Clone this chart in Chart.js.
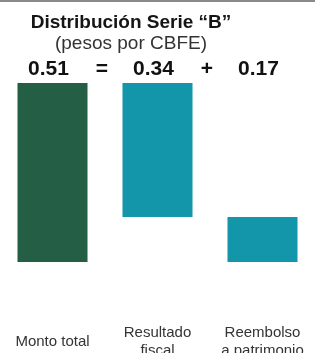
<!DOCTYPE html>
<html>
<head>
<meta charset="utf-8">
<script src="https://cdn.jsdelivr.net/npm/chart.js@4"></script>
<style>
  html, body { margin: 0; padding: 0; background: #fff; }
  .frame { width: 315px; height: 351px; border-top: 2px solid #8a8a8a; }
</style>
</head>
<body>
<div class="frame"><canvas id="serieChart" width="315" height="351"></canvas></div>
<script>
// Chart data
const categories = ['Monto total', ['Resultado', 'fiscal'], ['Reembolso', 'a patrimonio']];
const headlineValues = ['0.51', '0.34', '0.17'];
const operators = ['=', '+'];
const barLow = [0, 0.128, 0];      // floating bar bottoms
const barHigh = [0.51, 0.51, 0.128];
const barColors = ['#235e45', '#1396aa', '#1396aa'];

const titleText = 'Distribución Serie “B”';
const subtitleText = '(pesos por CBFE)';
const fontFamily = '"Liberation Sans", Arial, sans-serif';

// draws the heading and the "0.51 = 0.34 + 0.17" row above the bars
const headerPlugin = {
    id: 'header',
    afterDraw(chart) {
        const c = chart.ctx;
        const x = chart.scales.x;
        c.save();
        c.fillStyle = '#151515';
        c.textAlign = 'center';
        c.textBaseline = 'alphabetic';

        c.font = 'bold 19px ' + fontFamily;
        c.fillText(titleText, 131, 26);
        c.font = '19px ' + fontFamily;
        c.fillStyle = '#333';
        c.fillText(subtitleText, 131, 47);

        c.fillStyle = '#111';
        c.font = 'bold 21px ' + fontFamily;
        headlineValues.forEach((v, i) => {
            c.fillText(v, x.getPixelForValue(i) - 4, 73);
        });
        operators.forEach((op, i) => {
            const mid = (x.getPixelForValue(i) + x.getPixelForValue(i + 1)) / 2;
            c.fillText(op, mid - 3, 73);
        });
        c.restore();
    }
};

const ctx = document.getElementById('serieChart').getContext('2d');
new Chart(ctx, {
    type: 'bar',
    data: {
        labels: categories,
        datasets: [{
            data: barLow.map((lo, i) => [lo, barHigh[i]]),
            backgroundColor: barColors,
            borderWidth: 0,
            barPercentage: 0.667,
            categoryPercentage: 1
        }]
    },
    options: {
        responsive: false,
        animation: false,
        layout: { padding: { top: 81, left: 0, right: 0, bottom: 0 } },
        plugins: {
            legend: { display: false },
            tooltip: { enabled: false }
        },
        scales: {
            y: { display: false, min: 0, max: 0.51 },
            x: {
                grid: { display: false, drawTicks: false },
                border: { display: false },
                afterFit: (scale) => {
                    scale.height = 91;
                    // let the outer labels run to the edge instead of squeezing the bars
                    scale.paddingLeft = 0;
                    scale.paddingRight = 0;
                },
                ticks: {
                    padding: 71,
                    color: '#333',
                    crossAlign: 'center',
                    maxRotation: 0,
                    autoSkip: false,
                    font: { family: fontFamily, size: 15, lineHeight: 1.2 }
                }
            }
        }
    },
    plugins: [headerPlugin]
});
</script>
</body>
</html>
